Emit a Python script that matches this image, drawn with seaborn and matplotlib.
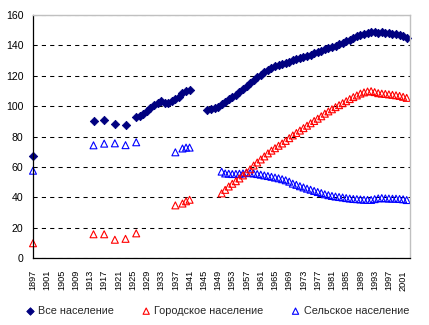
import numpy as np
import pandas as pd
import matplotlib
matplotlib.use("Agg")
import matplotlib.pyplot as plt
import seaborn as sns

# ---------------- data (million people) ----------------
total_years = [1897, 1914, 1917, 1920, 1923] + list(range(1926, 1942)) + list(range(1946, 2003))
total_vals = [67.5, 90.1, 91.0, 88.1, 87.5,
              # 1926-1941
              92.7, 93.3, 95.0, 96.9, 98.9, 100.8, 102.3, 103.4, 102.2, 102.0,
              103.3, 104.6, 106.1, 108.4, 110.1, 111.0,
              # 1946-1949
              97.5, 98.0, 98.6, 99.6,
              # 1950-2002
              101.4, 102.9, 104.6, 106.1, 107.6, 109.5, 111.4, 113.2, 115.1, 117.2,
              119.0, 120.8, 122.4, 123.8, 125.2, 126.3, 127.2, 128.0, 128.7, 129.4,
              130.1, 130.9, 131.7, 132.4, 133.2, 134.0, 134.7, 135.6, 136.5, 137.4,
              138.1, 139.0, 139.9, 140.8, 141.9, 142.8, 143.8, 144.9, 146.0, 147.0,
              147.7, 148.3, 148.5, 148.6, 148.4, 148.5, 148.3, 148.0, 147.8, 147.5,
              146.9, 146.3, 145.2]

ur_years = [1897, 1914, 1917, 1920, 1923, 1926, 1937, 1939, 1940, 1941] + list(range(1950, 2003))
urban_vals = [9.9, 15.8, 15.8, 12.2, 12.8, 16.4, 34.8, 36.0, 37.5, 38.5,
              # 1950-2002
              42.7, 45.0, 47.2, 49.0, 50.7, 52.5, 54.5, 56.5, 58.5, 61.0,
              63.0, 65.0, 67.0, 69.0, 70.8, 72.4, 74.0, 75.5, 77.2, 79.0,
              80.8, 82.4, 84.0, 85.6, 87.2, 88.8, 90.3, 91.8, 93.4, 95.1,
              96.6, 98.0, 99.4, 100.7, 102.0, 103.3, 104.7, 106.0, 107.1, 108.3,
              109.1, 109.7, 109.9, 109.3, 108.6, 108.3, 108.1, 107.8, 107.5, 107.2,
              106.8, 106.2, 105.5]
rural_vals = [57.6, 74.3, 75.4, 75.6, 74.4, 76.3, 69.7, 72.2, 72.8, 72.8,
              # 1950-2002
              57.0, 55.8, 55.6, 55.4, 55.5, 55.6, 55.8, 56.2, 56.0, 55.8,
              55.4, 55.0, 54.5, 54.1, 53.6, 53.1, 52.6, 52.0, 51.3, 50.4,
              49.1, 48.3, 47.4, 46.6, 45.8, 45.1, 44.3, 43.6, 42.9, 42.1,
              41.5, 41.0, 40.6, 40.3, 40.0, 39.6, 39.3, 39.0, 38.9, 38.7,
              38.5, 38.4, 38.4, 38.9, 39.4, 39.6, 39.4, 39.3, 39.2, 39.2,
              39.0, 38.8, 38.3]

series_names = ["Все население", "Городское население", "Сельское население"]
y_ticks = [0, 20, 40, 60, 80, 100, 120, 140, 160]
first_year, last_year = 1897, 2002

# ---------------- style ----------------
sns.set_style("white")
plt.rcParams["font.family"] = ["Liberation Sans", "DejaVu Sans"]

fig = plt.figure(figsize=(4.29, 3.25), dpi=100)
ax = fig.add_axes([33 / 429, 1 - 258.3 / 325, (410 - 33) / 429, (258.3 - 15) / 325])

df_total = pd.DataFrame({"year": total_years, "value": total_vals})
df_ur = pd.DataFrame({"year": ur_years, "urban": urban_vals, "rural": rural_vals})

sns.scatterplot(data=df_ur, x="year", y="rural", marker="^", s=25,
                facecolor="none", edgecolor="#0000FF", linewidth=0.8,
                ax=ax, label=series_names[2], clip_on=False, zorder=3)
sns.scatterplot(data=df_ur, x="year", y="urban", marker="^", s=25,
                facecolor="none", edgecolor="#FF0000", linewidth=0.8,
                ax=ax, label=series_names[1], clip_on=False, zorder=3)
sns.scatterplot(data=df_total, x="year", y="value", marker="D", s=18,
                color="#000080", edgecolor="#000080", linewidth=0.6,
                ax=ax, label=series_names[0], clip_on=False, zorder=4)

ax.set_xlim(first_year, last_year + 0.93)
ax.set_ylim(0, 160)
ax.set_xlabel("")
ax.set_ylabel("")

all_years = list(range(first_year, last_year + 1))
ax.set_xticks(all_years)
ax.set_xticklabels([str(y) if (y - first_year) % 4 == 0 else "" for y in all_years],
                   rotation=90, fontsize=6.6)
ax.tick_params(axis="x", direction="inout", length=5, width=0.8, pad=6, colors="black")
ax.set_yticks(y_ticks)
ax.set_yticklabels([str(v) for v in y_ticks], fontsize=7.6)
ax.tick_params(axis="y", direction="out", length=4, width=0.8, pad=3, colors="black")

ax.yaxis.grid(True, color="black", linestyle=(0, (4, 4)), linewidth=0.75)
ax.xaxis.grid(False)
ax.set_axisbelow(True)

for side in ["left", "bottom"]:
    ax.spines[side].set_color("black")
    ax.spines[side].set_linewidth(0.9)
    ax.spines[side].set_zorder(5)
for side in ["top", "right"]:
    ax.spines[side].set_color("#c0c0c0")
    ax.spines[side].set_linewidth(1.0)
    ax.spines[side].set_zorder(5)

handles, labels = ax.get_legend_handles_labels()
order = [labels.index(n) for n in series_names]
ax.get_legend().remove()
leg = fig.legend([handles[i] for i in order], [labels[i] for i in order],
                 loc="center", bbox_to_anchor=(218 / 429, 1 - 311 / 325), ncol=3,
                 frameon=False, fontsize=7.8, handlelength=0.6, handletextpad=0.45,
                 columnspacing=2.65, markerscale=0.9, borderaxespad=0)

fig.savefig("out.png", dpi=100)
